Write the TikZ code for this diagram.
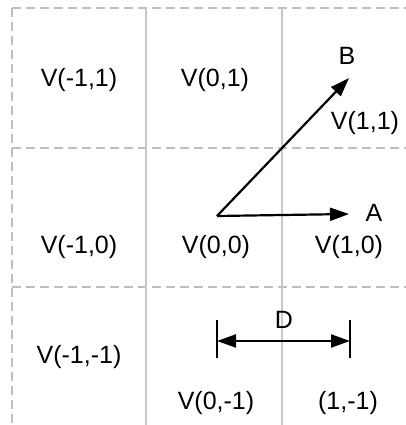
\documentclass[tikz,border=0pt]{standalone}
\usepackage{fontspec}
\setmainfont{Liberation Sans}
\usetikzlibrary{arrows.meta}
\definecolor{dashgray}{RGB}{190,190,190}
\definecolor{solidgray}{RGB}{200,200,200}
\begin{document}
\begin{tikzpicture}[x=1pt,y=-1pt,
  lbl/.style={font=\fontsize{25}{28}\selectfont, inner sep=0pt, anchor=center},
  dashline/.style={draw=dashgray, line width=1.5pt, dash pattern=on 9pt off 5pt},
  solidline/.style={draw=solidgray, line width=1.5pt},
  vec/.style={draw=black, line width=2.2pt, -{Triangle[length=19pt,width=13pt]}},
  dim/.style={draw=black, line width=2.2pt, {Triangle[length=19pt,width=13pt]}-{Triangle[length=19pt,width=13pt]}},
  bar/.style={draw=black, line width=2.2pt}
]
\useasboundingbox (0,0) rectangle (406,425);
% grid
\draw[dashline] (12,8) -- (406,8);
\draw[dashline] (12,148) -- (406,148);
\draw[dashline] (12,287) -- (406,287);
\draw[dashline] (12,8) -- (12,425);
\draw[solidline] (146,8) -- (146,425);
\draw[solidline] (282,8) -- (282,425);
% labels
\node[lbl] (vm11) at (79,80) {V(-1,1)};
\node[lbl] (v01) at (215,80) {V(0,1)};
\node[lbl] (B) at (347,56) {B};
\node[lbl] (v11) at (365,123) {V(1,1)};
\node[lbl] (vm10) at (79,247) {V(-1,0)};
\node[lbl] (v00) at (216,247) {V(0,0)};
\node[lbl] (v10) at (349,247) {V(1,0)};
\node[lbl] (A) at (374,213) {A};
\node[lbl] (vm1m1) at (79,357) {V(-1,-1)};
\node[lbl] (D) at (284,320) {D};
\node[lbl] (v0m1) at (216,403) {V(0,-1)};
\node[lbl] (v1m1) at (348,403) {(1,-1)};
% vectors
\coordinate (O) at (217,216);
\coordinate (Atip) at (349,214);
\coordinate (Btip) at (349,78);
\draw[vec] (O) -- (Atip);
\draw[vec] (O) -- (Btip);
% dimension
\coordinate (L1) at (217,320);
\coordinate (L2) at (217,358);
\coordinate (R1) at (350,320);
\coordinate (R2) at (350,358);
\coordinate (Lm) at (217,341);
\coordinate (Rm) at (350,341);
\draw[bar] (L1) -- (L2);
\draw[bar] (R1) -- (R2);
\draw[dim] (Lm) -- (Rm);
\end{tikzpicture}
\end{document}
